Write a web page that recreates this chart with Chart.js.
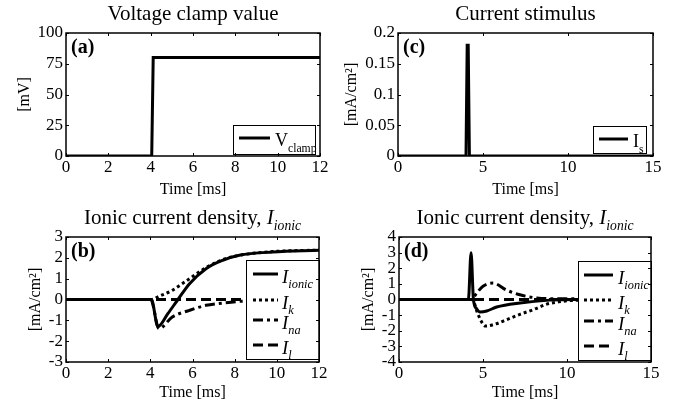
<!DOCTYPE html>
<html>
<head>
<meta charset="utf-8">
<script src="https://cdn.jsdelivr.net/npm/chart.js@4.4.1/dist/chart.umd.min.js"></script>
<style>
  body { margin: 0; background: #fff; }
  #wrap { position: relative; width: 682px; height: 406px; }
  .panel { position: absolute; width: 341px; height: 203px; }
</style>
</head>
<body>
<div id="wrap">
  <div class="panel" style="left:0;top:0"><canvas id="chartA" width="341" height="203"></canvas></div>
  <div class="panel" style="left:341px;top:0"><canvas id="chartC" width="341" height="203"></canvas></div>
  <div class="panel" style="left:0;top:203px"><canvas id="chartB" width="341" height="203"></canvas></div>
  <div class="panel" style="left:341px;top:203px"><canvas id="chartD" width="341" height="203"></canvas></div>
</div>
<script>
// (a) voltage clamp value
const clampTime = [0, 4.05, 4.12, 12];
const clampVoltage = [0, 0, 80, 80];

// (c) current stimulus
const stimTime = [0, 4.0, 4.07, 4.13, 4.2, 15];
const stimCurrent = [0, 0, 0.18, 0.18, 0, 0];

// (b) ionic currents under voltage clamp
const ionicTimeB = [0, 4.05, 4.36, 4.83, 5.31, 5.86, 6.64, 7.43, 8.22, 9.8, 12];
const ionicB = [0, 0, -1.3, -0.68, 0, 0.76, 1.48, 1.88, 2.12, 2.28, 2.36];
const kTimeB = [0, 4.05, 4.41, 5.04, 5.51, 5.86, 6.64, 7.43, 8.22, 9.8, 12];
const kB = [0, 0, 0.15, 0.44, 0.76, 1.0, 1.53, 1.91, 2.12, 2.3, 2.37];
const naTimeB = [0, 4.02, 4.41, 5.04, 5.86, 6.64, 7.43, 8.22, 9.5, 12];
const naB = [0, 0, -1.4, -0.84, -0.52, -0.28, -0.17, -0.09, -0.03, 0];
const lTimeB = [0, 12];
const lB = [0, 0];

// (d) ionic currents under current stimulus
const ionicTimeD = [0, 4.13, 4.29, 4.43, 4.62, 4.82, 5.22, 5.81, 7.2, 8.98, 10.5, 15];
const ionicD = [0, 0, 3.0, 0, -0.59, -0.8, -0.74, -0.48, -0.22, -0.04, 0, 0];
const kTimeD = [0, 4.35, 4.72, 5.15, 5.8, 6.41, 7.2, 7.99, 8.79, 9.5, 10.5, 15];
const kD = [0, 0, -1.0, -1.7, -1.55, -1.29, -0.95, -0.65, -0.3, -0.15, -0.05, 0];
const naTimeD = [0, 4.3, 4.65, 5.0, 5.6, 6.4, 7.2, 8.2, 9.5, 10.5, 11, 15];
const naD = [0, 0, 0.45, 0.85, 1.05, 0.6, 0.3, 0.1, 0.05, 0.05, 0, 0];
const lTimeD = [0, 15];
const lD = [0, 0];

const serif = '"Liberation Serif", "Times New Roman", serif';

function pts(t, v) {
    return t.map((x, i) => ({ x: x, y: v[i] }));
}

// line styles
const solid = { borderColor: '#000', borderWidth: 3, borderDash: [] };
const dotted = { borderColor: '#000', borderWidth: 3, borderDash: [3, 3] };
const dashDot = { borderColor: '#000', borderWidth: 3, borderDash: [10, 4, 3, 4] };
const dashed = { borderColor: '#000', borderWidth: 3, borderDash: [10, 5] };

function series(t, v, style, smooth) {
    return Object.assign({
        data: pts(t, v),
        pointRadius: 0,
        fill: false,
        cubicInterpolationMode: smooth ? 'monotone' : 'default',
        tension: 0
    }, style);
}

// draws text with italic / subscript pieces
function setFont(ctx, p, size) {
    const s = p.sub ? size * 0.65 : size;
    ctx.font = (p.italic ? 'italic ' : '') + (p.bold ? 'bold ' : '') + s + 'px ' + serif;
}
function richWidth(ctx, parts, size) {
    let w = 0;
    parts.forEach(p => { setFont(ctx, p, size); w += ctx.measureText(p.text).width; });
    return w;
}
function drawRich(ctx, parts, x, y, size) {
    ctx.textAlign = 'left';
    ctx.textBaseline = 'alphabetic';
    parts.forEach(p => {
        setFont(ctx, p, size);
        ctx.fillText(p.text, x, y + (p.sub ? size * 0.3 : 0));
        x += ctx.measureText(p.text).width;
    });
}

// MATLAB style box, inward ticks, title, panel letter and legend
const deco = {
    id: 'deco',
    afterDraw(chart, args, opts) {
        const ctx = chart.ctx;
        const a = chart.chartArea;
        const xs = chart.scales.x, ys = chart.scales.y;
        ctx.save();
        ctx.fillStyle = '#000';
        ctx.strokeStyle = '#000';

        // legend
        const lg = opts.legend;
        ctx.fillStyle = '#fff';
        ctx.fillRect(lg.left, lg.top, lg.right - lg.left, lg.bottom - lg.top);
        ctx.lineWidth = 1;
        ctx.strokeRect(lg.left + 0.5, lg.top + 0.5, lg.right - lg.left, lg.bottom - lg.top);
        ctx.fillStyle = '#000';
        lg.items.forEach(item => {
            const ds = chart.data.datasets[item.ds];
            ctx.beginPath();
            ctx.lineWidth = ds.borderWidth;
            ctx.setLineDash(ds.borderDash || []);
            ctx.moveTo(lg.lineX0, item.y);
            ctx.lineTo(lg.lineX1, item.y);
            ctx.stroke();
            ctx.setLineDash([]);
            drawRich(ctx, item.parts, lg.textX, item.y + lg.size * 0.45, lg.size);
        });

        // inward ticks
        ctx.lineWidth = 1;
        ctx.beginPath();
        xs.ticks.forEach(t => {
            const px = Math.round(xs.getPixelForValue(t.value)) + 0.5;
            ctx.moveTo(px, a.bottom); ctx.lineTo(px, a.bottom - 3);
            ctx.moveTo(px, a.top); ctx.lineTo(px, a.top + 3);
        });
        ys.ticks.forEach(t => {
            const py = Math.round(ys.getPixelForValue(t.value)) + 0.5;
            ctx.moveTo(a.left, py); ctx.lineTo(a.left + 3, py);
            ctx.moveTo(a.right, py); ctx.lineTo(a.right - 3, py);
        });
        ctx.stroke();

        // box
        ctx.lineWidth = 1.5;
        ctx.strokeRect(a.left, a.top, a.right - a.left, a.bottom - a.top);

        // title
        const tw = richWidth(ctx, opts.title, 21);
        drawRich(ctx, opts.title, (a.left + a.right) / 2 - tw / 2, opts.titleY, 21);

        // panel letter
        drawRich(ctx, [{ text: opts.letter, bold: true }], a.left + 5, a.top + 20, 20);
        ctx.restore();
    }
};

// MATLAB-like number labels: 0.2 rather than 0.20
function tickText(value) {
    return String(Math.round(value * 10000) / 10000);
}

function makeChart(id, datasets, ax, decoOpts) {
    return new Chart(document.getElementById(id), {
        type: 'line',
        data: { datasets: datasets },
        plugins: [deco],
        options: {
            responsive: false,
            animation: false,
            layout: { padding: { left: 0, top: ax.padTop, right: ax.padRight, bottom: 0 } },
            plugins: {
                legend: { display: false },
                title: { display: false },
                tooltip: { enabled: false },
                deco: decoOpts
            },
            scales: {
                x: {
                    type: 'linear',
                    min: 0, max: ax.xMax,
                    grid: { display: false, drawTicks: false },
                    border: { display: false },
                    ticks: { stepSize: ax.xStep, padding: 1, color: '#000', maxRotation: 0, autoSkip: false,
                             callback: tickText, font: { family: serif, size: 17 } },
                    title: { display: true, text: 'Time [ms]', color: '#000',
                             font: { family: serif, size: 16 }, padding: { top: 0, bottom: 4 } },
                    afterFit(scale) { scale.height = ax.xHeight; }
                },
                y: {
                    type: 'linear',
                    min: ax.yMin, max: ax.yMax,
                    grid: { display: false, drawTicks: false },
                    border: { display: false },
                    ticks: { stepSize: ax.yStep, padding: 3, color: '#000', autoSkip: false,
                             callback: tickText, font: { family: serif, size: 17 } },
                    title: { display: true, text: ax.yTitle, color: '#000',
                             font: { family: serif, size: 16 }, padding: { top: ax.yTitlePad, bottom: 0 } },
                    afterFit(scale) { scale.width = ax.yWidth; }
                }
            }
        }
    });
}

// (a)
makeChart('chartA', [series(clampTime, clampVoltage, solid, false)],
    { xMax: 12, xStep: 2, yMin: 0, yMax: 100, yStep: 25, yTitle: '[mV]', yTitlePad: 15,
      yWidth: 66, padTop: 33, padRight: 21, xHeight: 47 },
    { title: [{ text: 'Voltage clamp value' }], titleY: 20, letter: '(a)',
      legend: { left: 233, top: 125, right: 315, bottom: 154, lineX0: 239, lineX1: 270, textX: 275, size: 18,
                items: [{ ds: 0, y: 138, parts: [{ text: 'V' }, { text: 'clamp', sub: true }] }] } });

// (c)
makeChart('chartC', [series(stimTime, stimCurrent, solid, false)],
    { xMax: 15, xStep: 5, yMin: 0, yMax: 0.2, yStep: 0.05, yTitle: '[mA/cm²]', yTitlePad: 1.5,
      yWidth: 57, padTop: 33, padRight: 29, xHeight: 47 },
    { title: [{ text: 'Current stimulus' }], titleY: 20, letter: '(c)',
      legend: { left: 252, top: 126, right: 305, bottom: 153, lineX0: 258, lineX1: 287, textX: 292, size: 18,
                items: [{ ds: 0, y: 139, parts: [{ text: 'I' }, { text: 's', sub: true }] }] } });

const ionicTitle = [{ text: 'Ionic current density, ' }, { text: 'I', italic: true }, { text: 'ionic', italic: true, sub: true }];
function ionicLegend(left, top, right, bottom, lineX0, lineX1, textX, ys) {
    const names = ['ionic', 'k', 'na', 'l'];
    return {
        left: left, top: top, right: right, bottom: bottom, lineX0: lineX0, lineX1: lineX1, textX: textX, size: 19,
        items: names.map((n, i) => ({ ds: i, y: ys[i],
            parts: [{ text: 'I', italic: true }, { text: n, italic: true, sub: true }] }))
    };
}

// (b)
makeChart('chartB', [
        series(ionicTimeB, ionicB, solid, true),
        series(kTimeB, kB, dotted, true),
        series(naTimeB, naB, dashDot, true),
        series(lTimeB, lB, dashed, false)
    ],
    { xMax: 12, xStep: 2, yMin: -3, yMax: 3, yStep: 1, yTitle: '[mA/cm²]', yTitlePad: 26,
      yWidth: 66, padTop: 34, padRight: 22, xHeight: 44 },
    { title: ionicTitle, titleY: 21, letter: '(b)',
      legend: ionicLegend(246, 57, 319, 156, 253, 278, 282, [71, 97, 117, 142]) });

// (d)
makeChart('chartD', [
        series(ionicTimeD, ionicD, solid, true),
        series(kTimeD, kD, dotted, true),
        series(naTimeD, naD, dashDot, true),
        series(lTimeD, lD, dashed, false)
    ],
    { xMax: 15, xStep: 5, yMin: -4, yMax: 4, yStep: 1, yTitle: '[mA/cm²]', yTitlePad: 18,
      yWidth: 58, padTop: 34, padRight: 31, xHeight: 44 },
    { title: ionicTitle, titleY: 21, letter: '(d)',
      legend: ionicLegend(237, 58, 310, 157, 243, 272, 277, [72, 97, 118, 143]) });
</script>
</body>
</html>
